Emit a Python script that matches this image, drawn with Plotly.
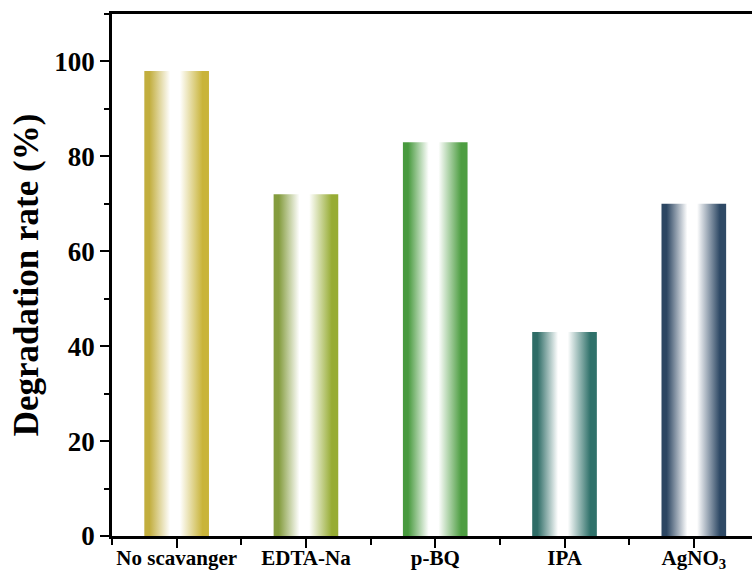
import plotly.graph_objects as go

categories = ["No scavanger", "EDTA-Na", "p-BQ", "IPA", "AgNO<sub>3</sub>"]
values = [98, 72, 83, 43, 70]
left_colors = ["#C2AE3E", "#849C3E", "#489A3E", "#2E6C66", "#2C4662"]
right_colors = ["#C9B43A", "#97AC34", "#4E9E42", "#2F716A", "#2F4A66"]
y_ticks = [0, 20, 40, 60, 80, 100]

bar_width = 0.5
font_family = "Liberation Serif, Times New Roman, serif"

fig = go.Figure()
for i, (cat, v) in enumerate(zip(categories, values)):
    x0, x1 = i - bar_width / 2, i + bar_width / 2
    fig.add_trace(go.Scatter(
        x=[x0, x1, x1, x0, x0],
        y=[0, 0, v, v, 0],
        mode="lines",
        fill="toself",
        line=dict(width=0),
        fillgradient=dict(
            type="horizontal",
            colorscale=[[0, left_colors[i]], [0.08, left_colors[i]], [0.4, "#FFFFFF"],
                        [0.55, "#FFFFFF"], [0.9, right_colors[i]], [1, right_colors[i]]],
        ),
        name=cat,
        showlegend=False,
        hoverinfo="skip",
    ))

fig.update_layout(
    width=752, height=576,
    margin=dict(l=112, r=0, t=14, b=40),
    paper_bgcolor="white", plot_bgcolor="white",
    font=dict(family=font_family, color="black"),
    showlegend=False,
)
fig.update_xaxes(
    range=[-0.5, 4.45], automargin=False,
    tickmode="array", tickvals=list(range(len(categories))), ticktext=categories,
    ticks="outside", ticklen=9, tickwidth=2, tickcolor="black",
    tickfont=dict(size=21, family=font_family, weight="bold"),
    ticklabelstandoff=-8,
    showline=True, linewidth=2.5, linecolor="black", mirror=True,
    showgrid=False, zeroline=False,
    minor=dict(tickmode="linear", tick0=0.5, dtick=1, ticks="outside", ticklen=6, tickwidth=2, tickcolor="black"),
)
fig.update_yaxes(
    range=[0, 110], automargin=False,
    tickmode="array", tickvals=y_ticks,
    ticks="outside", ticklen=9, tickwidth=2, tickcolor="black",
    tickfont=dict(size=27, family=font_family, weight="bold"),
    showline=True, linewidth=2.5, linecolor="black",
    showgrid=False, zeroline=False,
    minor=dict(tickmode="linear", tick0=10, dtick=20, ticks="outside", ticklen=5, tickwidth=2, tickcolor="black"),
    title=dict(text="Degradation rate (%)", font=dict(size=35, family=font_family, weight="bold"), standoff=6),
)

fig.write_html("out.html", config={"displayModeBar": False},
               post_script="document.body.style.margin='0';")
